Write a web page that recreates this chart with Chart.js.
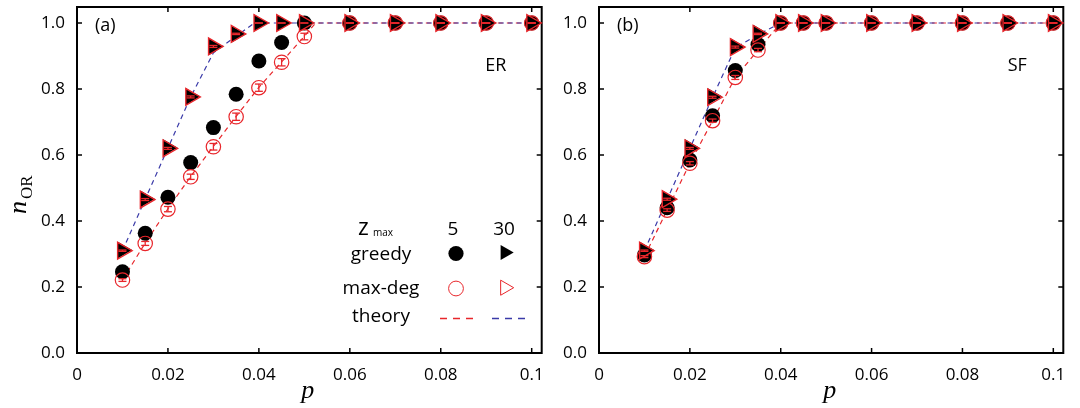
<!DOCTYPE html>
<html>
<head>
<meta charset="utf-8">
<script src="https://cdn.jsdelivr.net/npm/chart.js@4.4.0/dist/chart.umd.min.js"></script>
<style>
  html, body { margin: 0; padding: 0; background: #fff; }
  #wrap { position: relative; width: 1080px; height: 408px; }
  canvas { position: absolute; top: 0; }
</style>
</head>
<body>
<div id="wrap">
  <canvas id="chartER" width="545" height="408" style="left:0"></canvas>
  <canvas id="chartSF" width="535" height="408" style="left:545px"></canvas>
</div>
<script>
// occupation probability grid
const pGrid = [0.01, 0.015, 0.02, 0.025, 0.03, 0.035, 0.04, 0.045, 0.05, 0.06, 0.07, 0.08, 0.09, 0.1];

const xTickValues = [0, 0.02, 0.04, 0.06, 0.08, 0.1];
const xTickLabels = ['0', '0.02', '0.04', '0.06', '0.08', '0.1'];
const yTickValues = [0, 0.2, 0.4, 0.6, 0.8, 1.0];
const yTickLabels = ['0.0', '0.2', '0.4', '0.6', '0.8', '1.0'];

// ER network
const erGreedy5     = [0.246, 0.363, 0.472, 0.577, 0.683, 0.784, 0.885, 0.941, 1, 1, 1, 1, 1, 1];
const erGreedy30    = [0.312, 0.467, 0.622, 0.777, 0.928, 0.966, 1, 1, 1, 1, 1, 1, 1, 1];
const erMaxdeg5     = [0.221, 0.332, 0.436, 0.534, 0.625, 0.716, 0.804, 0.881, 0.959, 1, 1, 1, 1, 1];
const erMaxdeg30    = [0.310, 0.465, 0.620, 0.776, 0.929, 0.967, 1, 1, 1, 1, 1, 1, 1, 1];
const erMaxdeg5Err  = [0.004, 0.006, 0.008, 0.008, 0.010, 0.011, 0.011, 0.011, 0.010, 0, 0, 0, 0, 0];
const erMaxdeg30Err = [0.002, 0.003, 0.003, 0.003, 0.003, 0.002, 0, 0, 0, 0, 0, 0, 0, 0];
const erTheory5P    = [0.01, 0.015, 0.02, 0.025, 0.03, 0.035, 0.04, 0.045, 0.05, 0.0525, 0.1];
const erTheory5     = [0.222, 0.333, 0.437, 0.535, 0.626, 0.717, 0.805, 0.882, 0.960, 1, 1];
const erTheory30P   = [0.01, 0.015, 0.02, 0.025, 0.03, 0.039, 0.1];
const erTheory30    = [0.310, 0.466, 0.621, 0.776, 0.910, 1, 1];

// SF network
const sfGreedy5     = [0.297, 0.440, 0.585, 0.719, 0.856, 0.935, 1, 1, 1, 1, 1, 1, 1, 1];
const sfGreedy30    = [0.312, 0.467, 0.622, 0.777, 0.928, 0.969, 1, 1, 1, 1, 1, 1, 1, 1];
const sfMaxdeg5     = [0.292, 0.433, 0.575, 0.704, 0.835, 0.918, 1, 1, 1, 1, 1, 1, 1, 1];
const sfMaxdeg30    = [0.310, 0.466, 0.620, 0.775, 0.927, 0.967, 1, 1, 1, 1, 1, 1, 1, 1];
const sfMaxdeg5Err  = [0.003, 0.004, 0.005, 0.005, 0.006, 0.005, 0, 0, 0, 0, 0, 0, 0, 0];
const sfMaxdeg30Err = [0.002, 0.003, 0.003, 0.003, 0.003, 0.002, 0, 0, 0, 0, 0, 0, 0, 0];
const sfTheory5P    = [0.01, 0.015, 0.02, 0.025, 0.03, 0.035, 0.04, 0.1];
const sfTheory5     = [0.292, 0.433, 0.575, 0.704, 0.835, 0.918, 1, 1];
const sfTheory30P   = [0.01, 0.015, 0.02, 0.025, 0.03, 0.035, 0.04, 0.1];
const sfTheory30    = [0.310, 0.465, 0.620, 0.775, 0.925, 0.965, 1, 1];

const RED = '#e8262b';
const BLUE = '#3a3aa8';
const SANS = '"Open Sans", sans-serif';
const SERIF = '"Liberation Serif", serif';

Chart.defaults.font.family = SANS;
Chart.defaults.color = '#000';

const pts = (xs, ys) => xs.map((x, i) => ({x: x, y: ys[i]}));

function line(ctx, x1, y1, x2, y2) {
  ctx.beginPath();
  ctx.moveTo(x1, y1);
  ctx.lineTo(x2, y2);
  ctx.stroke();
}

function triangleRight(ctx, x, y, r) {
  ctx.beginPath();
  ctx.moveTo(x + r, y);
  ctx.lineTo(x - r / 2, y - r * Math.sqrt(3) / 2);
  ctx.lineTo(x - r / 2, y + r * Math.sqrt(3) / 2);
  ctx.closePath();
}

// box with inward ticks on all four sides
const framePlugin = {
  id: 'frame',
  beforeDatasetsDraw(chart) {
    const {ctx, chartArea: a, scales: {x, y}} = chart;
    ctx.save();
    ctx.strokeStyle = '#000';
    ctx.lineWidth = 1.5;
    xTickValues.forEach(v => {
      const px = x.getPixelForValue(v);
      line(ctx, px, a.bottom, px, a.bottom - 5);
      line(ctx, px, a.top, px, a.top + 5);
    });
    yTickValues.forEach(v => {
      const py = y.getPixelForValue(v);
      line(ctx, a.left, py, a.left + 5, py);
      line(ctx, a.right, py, a.right - 5, py);
    });
    ctx.lineWidth = 2;
    ctx.strokeRect(a.left, a.top, a.right - a.left, a.bottom - a.top);
    ctx.restore();
  }
};

// error bars of the max-deg runs
const errorBarPlugin = {
  id: 'errorBars',
  afterDatasetsDraw(chart, args, opts) {
    const {ctx, scales: {x, y}} = chart;
    ctx.save();
    ctx.strokeStyle = RED;
    ctx.lineWidth = 1.3;
    opts.sets.forEach(set => {
      set.values.forEach((v, i) => {
        const px = x.getPixelForValue(pGrid[i]);
        const lo = y.getPixelForValue(v - set.err[i]);
        const hi = y.getPixelForValue(v + set.err[i]);
        line(ctx, px, lo, px, hi);
        line(ctx, px - 4, lo, px + 4, lo);
        line(ctx, px - 4, hi, px + 4, hi);
      });
    });
    ctx.restore();
  }
};

// panel label, network name, axis titles and the marker table
const textPlugin = {
  id: 'panelText',
  afterDraw(chart, args, opts) {
    const {ctx, chartArea: a} = chart;
    ctx.save();
    ctx.fillStyle = '#000';
    ctx.textBaseline = 'middle';
    ctx.textAlign = 'left';
    ctx.font = '18px ' + SANS;
    ctx.fillText(opts.tag, a.left + 18, 25.5);
    ctx.textAlign = 'center';
    ctx.fillText(opts.name, a.right - 46, 66);

    ctx.textBaseline = 'alphabetic';
    ctx.font = 'italic 26px ' + SERIF;
    ctx.fillText('p', (a.left + a.right) / 2 - 1.5, 398);

    if (opts.yTitle) {
      ctx.save();
      ctx.translate(26, 214);
      ctx.rotate(-Math.PI / 2);
      ctx.textAlign = 'left';
      ctx.font = 'italic 26px ' + SERIF;
      ctx.fillText('n', 0, 0);
      const w = ctx.measureText('n').width;
      ctx.font = '17px ' + SERIF;
      ctx.fillText('OR', w + 2, 6);
      ctx.restore();
    }

    if (opts.legend) {
      ctx.textAlign = 'left';
      ctx.font = '23px ' + SANS;
      ctx.fillText('z', 358, 235);
      ctx.font = '10px ' + SANS;
      ctx.fillText('max', 373, 236);
      ctx.textAlign = 'center';
      ctx.font = '19px ' + SANS;
      ctx.fillText('5', 453, 235);
      ctx.fillText('30', 504, 235);
      ctx.fillText('greedy', 381, 260);
      ctx.fillText('max-deg', 381, 294);
      ctx.fillText('theory', 381, 322);

      ctx.fillStyle = '#000';
      ctx.beginPath();
      ctx.arc(456, 253.5, 7.6, 0, Math.PI * 2);
      ctx.fill();
      triangleRight(ctx, 505, 252.5, 8.7);
      ctx.fill();

      ctx.strokeStyle = RED;
      ctx.lineWidth = 1;
      ctx.beginPath();
      ctx.arc(456, 288.5, 7.4, 0, Math.PI * 2);
      ctx.stroke();
      triangleRight(ctx, 505, 287.7, 8.7);
      ctx.stroke();

      ctx.lineWidth = 1.4;
      ctx.setLineDash([7, 6]);
      line(ctx, 440, 318.5, 474, 318.5);
      ctx.strokeStyle = BLUE;
      line(ctx, 492, 318.5, 526, 318.5);
    }
    ctx.restore();
  }
};

function makePanel(id, d) {
  const datasets = [
    {
      label: 'max-deg, zmax 30',
      data: pts(pGrid, d.maxdeg30),
      showLine: false,
      pointStyle: 'triangle',
      pointRotation: 90,
      pointRadius: 9.7,
      pointBackgroundColor: 'rgba(0,0,0,0)',
      pointBorderColor: RED,
      pointBorderWidth: 1.4
    },
    {
      label: 'greedy, zmax 30',
      data: pts(pGrid, d.greedy30),
      showLine: false,
      pointStyle: 'triangle',
      pointRotation: 90,
      pointRadius: 9.7,
      pointBackgroundColor: '#000',
      pointBorderColor: '#000',
      pointBorderWidth: 0
    },
    {
      label: 'max-deg, zmax 5',
      data: pts(pGrid, d.maxdeg5),
      showLine: false,
      pointStyle: 'circle',
      pointRadius: 7.2,
      pointBackgroundColor: 'rgba(0,0,0,0)',
      pointBorderColor: RED,
      pointBorderWidth: 1.2
    },
    {
      label: 'greedy, zmax 5',
      data: pts(pGrid, d.greedy5),
      showLine: false,
      pointStyle: 'circle',
      pointRadius: 7.5,
      pointBackgroundColor: '#000',
      pointBorderColor: '#000',
      pointBorderWidth: 0
    },
    {
      label: 'theory, zmax 30',
      data: pts(d.theory30P, d.theory30),
      showLine: true,
      pointRadius: 0,
      borderColor: BLUE,
      borderWidth: 1.2,
      borderDash: [5, 4]
    },
    {
      label: 'theory, zmax 5',
      data: pts(d.theory5P, d.theory5),
      showLine: true,
      pointRadius: 0,
      borderColor: RED,
      borderWidth: 1.2,
      borderDash: [5, 4]
    }
  ];
  datasets.forEach(ds => { ds.clip = false; });

  return new Chart(document.getElementById(id), {
    type: 'scatter',
    data: {datasets: datasets},
    plugins: [framePlugin, errorBarPlugin, textPlugin],
    options: {
      responsive: false,
      animation: false,
      events: [],
      layout: {
        autoPadding: false,
        padding: {left: 0, top: 7, right: d.padRight, bottom: 0}
      },
      plugins: {
        legend: {display: false},
        tooltip: {enabled: false},
        errorBars: {sets: [
          {values: d.maxdeg5, err: d.err5},
          {values: d.maxdeg30, err: d.err30}
        ]},
        panelText: {tag: d.tag, name: d.name, legend: d.legend, yTitle: d.yTitle}
      },
      scales: {
        x: {
          type: 'linear',
          min: 0,
          max: 0.1022,
          afterBuildTicks: s => { s.ticks = xTickValues.map(v => ({value: v})); },
          afterFit: s => {
            s.height = 55;
            s.paddingLeft = 0;
            s.paddingRight = 0;
          },
          ticks: {
            autoSkip: false,
            maxRotation: 0,
            padding: 4,
            font: {size: 17},
            callback: (v, i) => xTickLabels[i]
          },
          grid: {display: false},
          border: {display: false}
        },
        y: {
          type: 'linear',
          min: 0,
          max: 1.0485,
          afterBuildTicks: s => { s.ticks = yTickValues.map(v => ({value: v})); },
          afterFit: s => {
            s.width = d.yWidth;
            s.paddingTop = 0;
            s.paddingBottom = 0;
          },
          ticks: {
            padding: 4,
            font: {size: 17},
            callback: (v, i) => yTickLabels[i]
          },
          grid: {display: false},
          border: {display: false}
        }
      }
    }
  });
}

makePanel('chartER', {
  greedy5: erGreedy5, greedy30: erGreedy30,
  maxdeg5: erMaxdeg5, maxdeg30: erMaxdeg30,
  err5: erMaxdeg5Err, err30: erMaxdeg30Err,
  theory5P: erTheory5P, theory5: erTheory5,
  theory30P: erTheory30P, theory30: erTheory30,
  yWidth: 77, padRight: 3.3,
  tag: '(a)', name: 'ER', legend: true, yTitle: true
});

makePanel('chartSF', {
  greedy5: sfGreedy5, greedy30: sfGreedy30,
  maxdeg5: sfMaxdeg5, maxdeg30: sfMaxdeg30,
  err5: sfMaxdeg5Err, err30: sfMaxdeg30Err,
  theory5P: sfTheory5P, theory5: sfTheory5,
  theory30P: sfTheory30P, theory30: sfTheory30,
  yWidth: 54, padRight: 16.7,
  tag: '(b)', name: 'SF', legend: false, yTitle: false
});
</script>
</body>
</html>
